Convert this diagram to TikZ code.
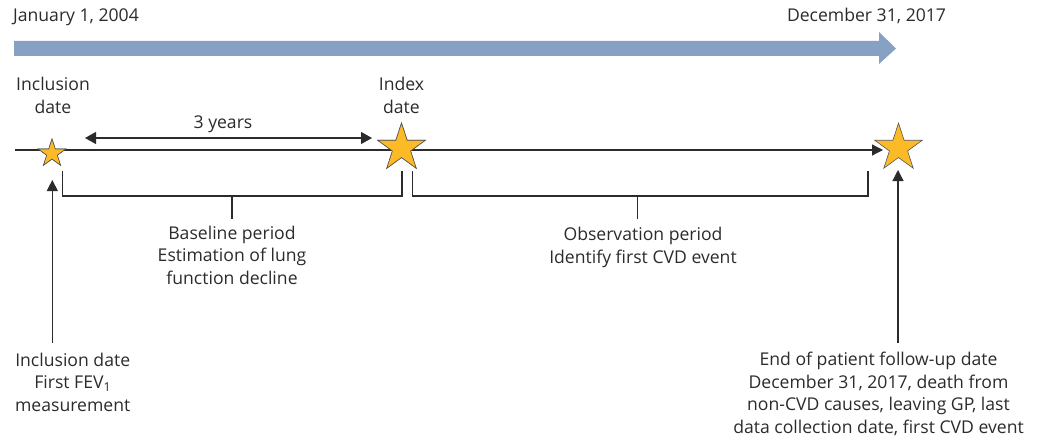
\documentclass[tikz,border=0pt]{standalone}
\usepackage{fontspec}
\setmainfont{Open Sans}
\usetikzlibrary{shapes.geometric,arrows.meta}
\definecolor{txt}{HTML}{2B2B2B}
\definecolor{band}{HTML}{87A1C4}
\definecolor{stary}{HTML}{FDBA27}
\begin{document}
\begin{tikzpicture}[x=1pt,y=-1pt,
  lbl/.style={font=\fontsize{17.6}{22.5}\selectfont, text=txt, align=center, inner sep=0pt, anchor=base},
  starnode/.style={star, star points=5, star point ratio=2.618, fill=stary, draw=txt!80, line width=0.6pt, inner sep=0pt, shape border rotate=0},
  brk/.style={draw=txt, line width=1.3pt},
  tip/.style={-{Triangle[length=11pt,width=11pt]}},
]
\useasboundingbox (0,0) rectangle (1041,436);
% top band
\fill[band] (14,41) -- (879,41) -- (879,32) -- (896,48.5) -- (879,64) -- (879,56) -- (14,56) -- cycle;
\node[lbl] (jan) at (76,22) {January 1, 2004};
\node[lbl] (dec) at (866.5,22) {December 31, 2017};
% stars
\node[starnode, minimum size=29pt] (s1) at (52,153.5) {};
\node[starnode, minimum size=50pt] (s2) at (401.5,148) {};
\node[starnode, minimum size=50pt] (s3) at (898.5,148) {};
% timeline
\coordinate (tl0) at (15,150);
\coordinate (tl1) at (883,150);
\draw[txt, line width=1.2pt, tip] (tl0) -- (tl1);
\node[starnode, minimum size=29pt] at (s1) {};
\node[starnode, minimum size=50pt] at (s2) {};
% labels above
\node[lbl] (incl) at (53,113) {Inclusion\\date};
\node[lbl] (idx) at (401.5,113) {Index\\date};
\node[lbl] (yrs) at (223,128) {3 years};
\coordinate (y0) at (85,138);
\coordinate (y1) at (372,138);
\draw[txt, line width=1.2pt, {Triangle[length=11pt,width=12pt]}-{Triangle[length=11pt,width=12pt]}] (y0) -- (y1);
% brackets
\coordinate (b1a) at (62.7,171);
\coordinate (b1b) at (402,171);
\coordinate (b1m) at (232,196);
\coordinate (b1t) at (232,219);
\draw[brk] (b1a) -- (62.7,196) -- (402,196) -- (b1b);
\draw[brk] (b1m) -- (b1t);
\coordinate (b2a) at (412.3,171);
\coordinate (b2b) at (868,171);
\coordinate (b2m) at (637.7,196);
\coordinate (b2t) at (637.7,219);
\draw[brk] (b2a) -- (412.3,196) -- (868,196) -- (b2b);
\draw[brk] (b2m) -- (b2t);
\node[lbl] (base) at (232,284) {Baseline period\\Estimation of lung\\function decline};
\node[lbl] (obs) at (643,263) {Observation period\\Identify first CVD event};
% bottom labels and arrows
\node[lbl] (inclb) at (72.7,411) {Inclusion date\\First FEV\textsubscript{1}\\measurement};
\node[lbl] (endb) at (878.5,433) {End of patient follow-up date\\December 31, 2017, death from\\non-CVD causes, leaving GP, last\\data collection date, first CVD event};
\coordinate (a1s) at (52.3,343);
\coordinate (a1e) at (52.3,180);
\draw[txt, line width=1.2pt, tip] (a1s) -- (a1e);
\coordinate (a2s) at (898,343);
\coordinate (a2e) at (898,170);
\draw[txt, line width=1.2pt, tip] (a2s) -- (a2e);
\end{tikzpicture}
\end{document}
